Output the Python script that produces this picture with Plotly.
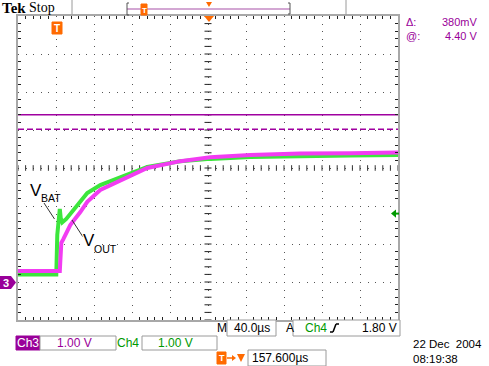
import numpy as np
import plotly.graph_objects as go

# ---------------- data ----------------
# Ch3 = V_OUT (magenta), Ch4 = V_BAT (green); time in microseconds, voltage in volts
vout_t = [-42.4, 1.6, 2.1, 2.6, 3.2, 5.3, 8.4, 12.6, 23.2, 30.5, 44.2, 65.3, 93.7,
          128.4, 160.0, 202.1, 254.7, 307.4, 357.6]
vout_v = [0.29, 0.29, 0.53, 0.84, 1.03, 1.13, 1.29, 1.50, 1.84, 2.11, 2.42, 2.66, 3.00,
          3.18, 3.28, 3.34, 3.38, 3.39, 3.41]

vbat_t = [-42.4, -2.1, -1.05, 0.5, 1.6, 2.6, 4.2, 8.4, 12.6, 23.2, 30.5, 44.2, 65.3,
          93.7, 128.4, 160.0, 202.1, 254.7, 307.4, 357.6]
vbat_v = [0.20, 0.20, 1.24, 1.76, 1.92, 1.68, 1.57, 1.66, 1.79, 2.11, 2.34, 2.55, 2.76,
          3.03, 3.18, 3.24, 3.29, 3.32, 3.33, 3.34]

cursor_at_v = 4.40        # "@:" readout
cursor_delta_v = 0.38     # "Δ:" readout (380 mV)
trigger_level_v = 1.80    # Ch4 trigger level
time_per_div = 40.0       # M 40.0 µs
volts_per_div = 1.00
trigger_pos_us = 157.6    # trigger position readout

# ---------------- geometry ----------------
x_center = trigger_pos_us
x_min, x_max = x_center - 5 * time_per_div, x_center + 5 * time_per_div
y_min, y_max = -1 * volts_per_div, 7 * volts_per_div

W, H = 489, 366
L, R, T, B = 18, 398, 16, 320


def fx(px):
    return (px - L) / (R - L)


def fy(py):
    return (B - py) / (B - T)


PURPLE = "#990099"
GREEN = "#009900"
ORANGE = "#FF6A00"
FONT = "Liberation Sans"

fig = go.Figure()

# centre graticule ticks
cv = np.arange(y_min, y_max + 1e-6, volts_per_div / 5)
fig.add_trace(go.Scatter(x=[x_center] * len(cv), y=cv, mode="markers",
                         marker=dict(symbol="line-ew", size=5, line=dict(color="#222", width=1)),
                         hoverinfo="skip", showlegend=False))
ch = np.arange(x_min, x_max + 1e-6, time_per_div / 5)
fig.add_trace(go.Scatter(x=ch, y=[(y_min + y_max) / 2] * len(ch), mode="markers",
                         marker=dict(symbol="line-ns", size=4, line=dict(color="#333", width=1)),
                         hoverinfo="skip", showlegend=False))

# cursors
fig.add_trace(go.Scatter(x=[x_min, x_max], y=[cursor_at_v] * 2, mode="lines",
                         line=dict(color="#A000A0", width=1.5), hoverinfo="skip", showlegend=False))
fig.add_trace(go.Scatter(x=[x_min, x_max], y=[cursor_at_v - cursor_delta_v] * 2, mode="lines",
                         line=dict(color="#A000A0", width=1.5, dash="6px,3px"),
                         hoverinfo="skip", showlegend=False))

# waveforms
fig.add_trace(go.Scatter(x=vbat_t, y=vbat_v, mode="lines",
                         line=dict(color="#3CE63C", width=4), hoverinfo="skip", showlegend=False))
fig.add_trace(go.Scatter(x=vout_t, y=vout_v, mode="lines",
                         line=dict(color="#F23CF2", width=4), hoverinfo="skip", showlegend=False))

shapes = []
ann = []


def rect(x0, y0, x1, y1, fill="white", line="#9a9a9a", lw=1):
    shapes.append(dict(type="rect", xref="paper", yref="paper",
                       x0=fx(x0), x1=fx(x1), y0=fy(y0), y1=fy(y1),
                       fillcolor=fill, line=dict(color=line, width=lw)))


def seg(x0, y0, x1, y1, color="#9a9a9a", lw=1, dash=None):
    d = dict(color=color, width=lw)
    if dash:
        d["dash"] = dash
    shapes.append(dict(type="line", xref="paper", yref="paper",
                       x0=fx(x0), x1=fx(x1), y0=fy(y0), y1=fy(y1), line=d))


def poly(pts, fill, line=None, lw=0):
    path = "M " + " L ".join(f"{fx(a):.5f},{fy(b):.5f}" for a, b in pts) + " Z"
    shapes.append(dict(type="path", xref="paper", yref="paper", path=path,
                       fillcolor=fill, line=dict(color=line or fill, width=lw)))


def text(s, px, py, color="black", size=12, xa="left", family=FONT, bg=None):
    a = dict(text=s, xref="paper", yref="paper", x=fx(px), y=fy(py), xanchor=xa,
             yanchor="middle", showarrow=False, font=dict(family=family, size=size, color=color),
             borderpad=0, align=xa if xa in ("left", "right") else "center")
    if bg:
        a["bgcolor"] = bg
    ann.append(a)


# ---- top bar ----
text("<b>Tek</b>", 1, 8, size=15, family="Liberation Serif")
text("Stop", 28, 8, size=14, family="Liberation Serif")
seg(72, 0, 72, 15)
seg(346, 0, 346, 15)
seg(127, 9, 290, 9, color="#C58AC5", lw=1.5)
seg(127, 3, 127, 15, color="#555", lw=1)
seg(127, 3, 129, 3, color="#555", lw=1)
seg(127, 15, 129, 15, color="#555", lw=1)
seg(290, 3, 290, 14, color="#555", lw=1)
seg(288, 3, 290, 3, color="#555", lw=1)
seg(288, 14, 290, 14, color="#555", lw=1)
rect(141, 4, 147, 15, fill=ORANGE, line=ORANGE)
text("<b>T</b>", 144, 10, color="white", size=8, xa="center")
poly([(206, 2), (212, 2), (209, 7)], ORANGE)

# ---- cursor readout ----
text("Δ:<br>@:", 405, 29, color=PURPLE, size=11)
text("380mV<br>4.40 V", 479, 29, color=PURPLE, size=11, xa="right")

# ---- screen markers ----
rect(52, 22, 62, 34, fill=ORANGE, line=ORANGE)
text("<b>T</b>", 57, 28.5, color="white", size=10, xa="center")
poly([(204, 16), (214, 16), (209, 22)], ORANGE)
poly([(0, 276), (11, 276), (16, 282.5), (11, 289), (0, 289)], PURPLE)
text("<b>3</b>", 6, 282.5, color="white", size=11, xa="center")
shapes.append(dict(type="path", xref="paper", yref="y",
                   path=f"M {fx(391)},{trigger_level_v} L {fx(396)},{trigger_level_v + 0.11} "
                        f"L {fx(396)},{trigger_level_v - 0.11} Z",
                   fillcolor=GREEN, line=dict(color=GREEN, width=0)))
shapes.append(dict(type="line", xref="paper", yref="y", x0=fx(395), x1=fx(399),
                   y0=trigger_level_v, y1=trigger_level_v, line=dict(color=GREEN, width=2)))

# ---- waveform labels ----
text("V", 29, 190, size=17, family="Liberation Sans", bg="white")
text("BAT", 40, 198, size=10.5, family="Liberation Sans")
seg(44, 203, 54.5, 219, color="#333", lw=1)
text("V", 82, 241, size=17, family="Liberation Sans", bg="white")
text("OUT", 93, 249, size=10.5, family="Liberation Sans")
seg(72, 220, 83, 237, color="#333", lw=1)

# ---- bottom bar ----
text("M", 216, 328, size=12)
rect(227, 320, 276, 336)
text("40.0µs", 251.5, 328, size=12, xa="center")
text("A", 285, 328, size=12)
rect(293, 320, 400, 336)
text("Ch4", 304, 328, color=GREEN, size=12)
seg(330, 332, 333, 332, color="black", lw=1.5)
seg(333, 332, 336, 324, color="black", lw=1.5)
seg(336, 324, 339, 324, color="black", lw=1.5)
text("1.80 V", 398, 328, size=12, xa="right")

rect(16, 336, 40, 350, fill=PURPLE, line=PURPLE)
text("Ch3", 28, 343, color="white", size=12, xa="center")
rect(40, 336, 116, 350)
text("1.00 V", 74, 343, color=PURPLE, size=12, xa="center")
text("Ch4", 128, 343, color=GREEN, size=12, xa="center")
rect(142, 336, 217, 350)
text("1.00 V", 175, 343, color=GREEN, size=12, xa="center")

rect(217, 352, 226, 364, fill=ORANGE, line=ORANGE)
text("<b>T</b>", 221.5, 358, color="white", size=9, xa="center")
seg(227, 358, 234, 358, color=ORANGE, lw=1.5)
poly([(232, 355), (236, 358), (232, 361)], ORANGE)
poly([(237, 354), (245, 354), (241, 362)], ORANGE)
rect(248, 350, 326, 366)
text("157.600µs", 251, 358, size=12)

text("22 Dec\u00a0 2004<br>08:19:38", 412, 352, size=11.5)

grid = dict(showgrid=True, gridcolor="#555", griddash="1px,6.6px", gridwidth=1,
            ticks="", showticklabels=False, zeroline=False, showline=True,
            linecolor="#a8a8a8", linewidth=2, mirror="ticks")

fig.update_layout(
    width=W, height=H, autosize=False,
    margin=dict(l=L, r=W - R, t=T, b=H - B, pad=0),
    paper_bgcolor="white", plot_bgcolor="white",
    showlegend=False,
    xaxis=dict(range=[x_min, x_max], dtick=time_per_div, tick0=x_min,
               minor=dict(dtick=time_per_div / 5, tick0=x_min, ticks="inside", ticklen=3,
                          tickcolor="#222", tickwidth=1, showgrid=False), **grid),
    yaxis=dict(range=[y_min, y_max], dtick=volts_per_div, tick0=y_min,
               minor=dict(dtick=volts_per_div / 5, tick0=y_min, ticks="inside", ticklen=3,
                          tickcolor="#222", tickwidth=1, showgrid=False), **grid),
    shapes=shapes, annotations=ann,
)

fig.write_html("out.html", config={"displayModeBar": False},
               post_script="document.body.style.margin='0';document.body.style.overflow='hidden';")
